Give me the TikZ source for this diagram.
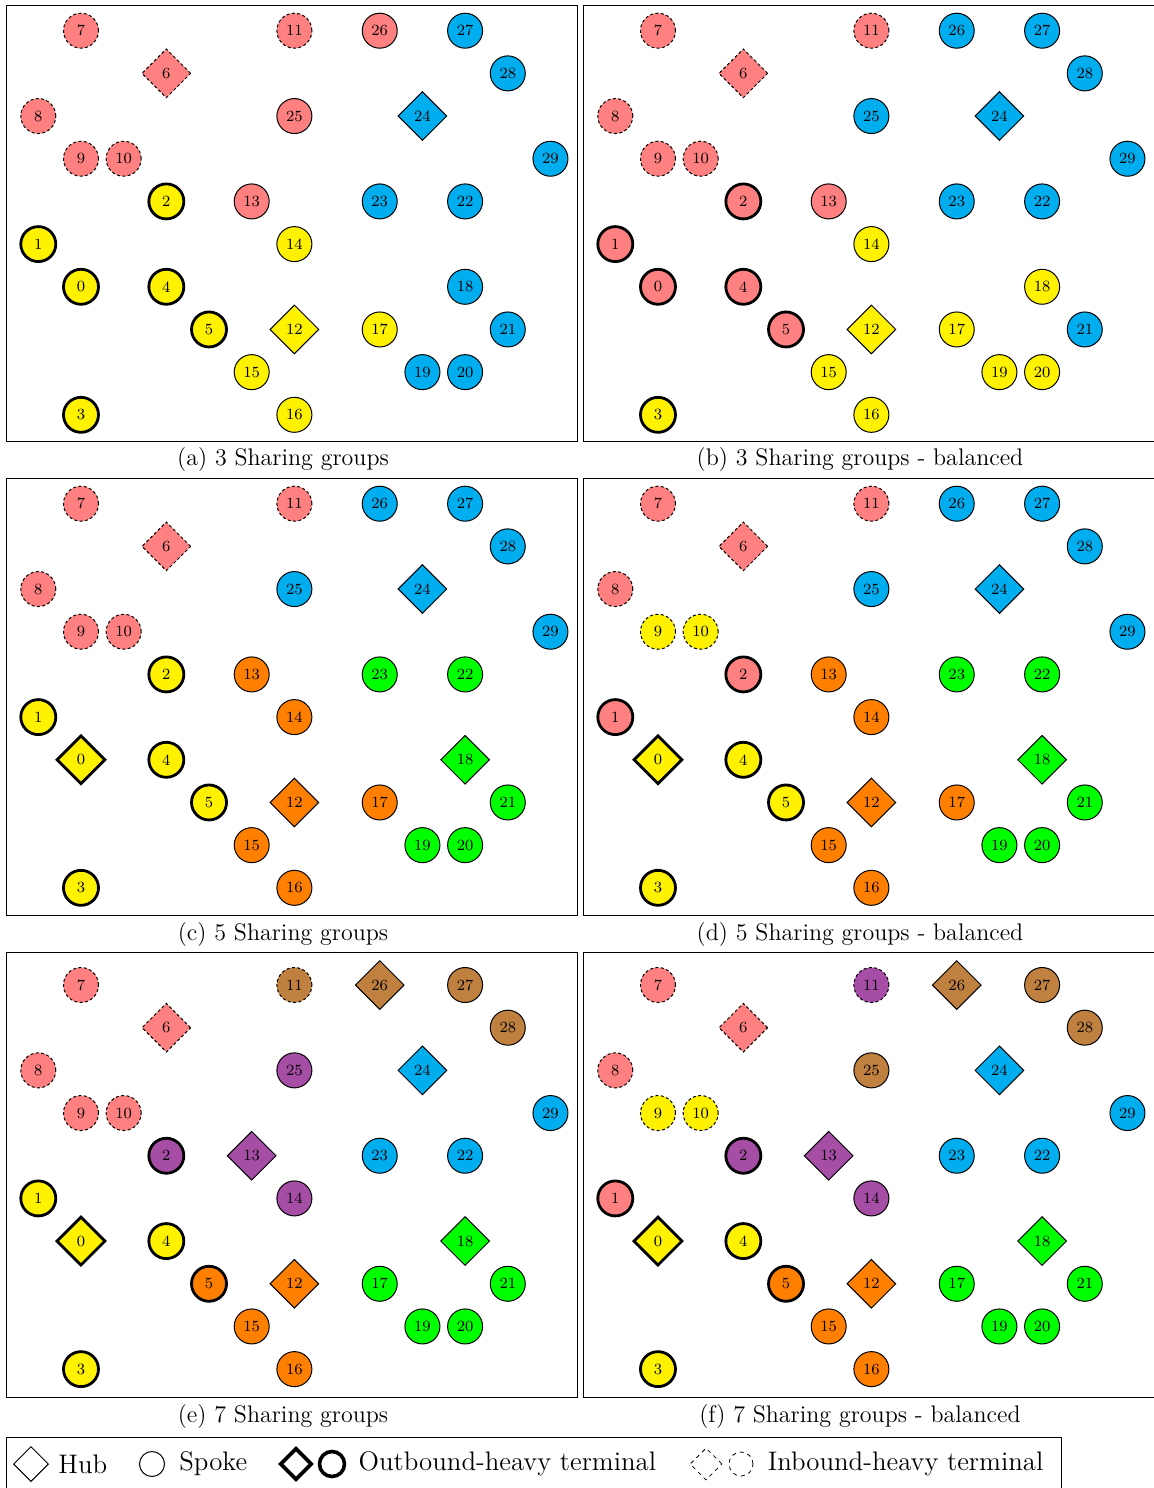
\documentclass[tikz,border=0pt]{standalone}
\usepackage{xcolor}
\usepackage{tikz}
\usetikzlibrary{shapes.geometric, positioning, calc}
\definecolor{pk}{RGB}{255, 128, 128}
\definecolor{yl}{RGB}{255, 242, 0}
\definecolor{cy}{RGB}{0, 174, 239}
\definecolor{gn}{RGB}{0, 255, 0}
\definecolor{og}{RGB}{255, 128, 0}
\definecolor{pu}{RGB}{166, 77, 166}
\definecolor{br}{RGB}{191, 128, 64}

\tikzset{
    terminal/.style={draw=black, line width=0.5pt, inner sep=0pt, font=\fontsize{7.8}{9}\selectfont},
    spoke/.style={terminal, circle, minimum size=17.5pt},
    hub/.style={terminal, diamond, aspect=1, minimum size=24.5pt},
    outbound/.style={line width=1.4pt},
    inbound/.style={dash pattern=on 1.5pt off 1.2pt},
    regular/.style={},
    panelframe/.style={draw=black, line width=0.5pt},
    caption/.style={font=\fontsize{12}{14}\selectfont},
    legendtext/.style={font=\fontsize{13.4}{15}\selectfont, inner sep=0pt},
    keydash/.style={line width=0.4pt, dash pattern=on 2pt off 2pt}
}

% id/column/row of every terminal on the grid
\newcommand{\sgpos}{0/1/6, 1/0/5, 2/3/4, 3/1/9, 4/3/6, 5/4/7, 6/3/1, 7/1/0, 8/0/2, 9/1/3,
    10/2/3, 11/6/0, 12/6/7, 13/5/4, 14/6/5, 15/5/8, 16/6/9, 17/8/7, 18/10/6, 19/9/8,
    20/10/8, 21/11/7, 22/10/4, 23/8/4, 24/9/2, 25/6/2, 26/8/0, 27/10/0, 28/11/1, 29/12/3}

% shapes, indexed by terminal id
\newcommand{\shapesab}{{"spoke","spoke","spoke","spoke","spoke","spoke","hub","spoke","spoke","spoke",
    "spoke","spoke","hub","spoke","spoke","spoke","spoke","spoke","spoke","spoke",
    "spoke","spoke","spoke","spoke","hub","spoke","spoke","spoke","spoke","spoke"}}
\newcommand{\shapescd}{{"hub","spoke","spoke","spoke","spoke","spoke","hub","spoke","spoke","spoke",
    "spoke","spoke","hub","spoke","spoke","spoke","spoke","spoke","hub","spoke",
    "spoke","spoke","spoke","spoke","hub","spoke","spoke","spoke","spoke","spoke"}}
\newcommand{\shapesef}{{"hub","spoke","spoke","spoke","spoke","spoke","hub","spoke","spoke","spoke",
    "spoke","spoke","hub","hub","spoke","spoke","spoke","spoke","hub","spoke",
    "spoke","spoke","spoke","spoke","hub","spoke","hub","spoke","spoke","spoke"}}

% sharing group colours, indexed by terminal id
\newcommand{\groupsa}{{"yl","yl","yl","yl","yl","yl","pk","pk","pk","pk",
    "pk","pk","yl","pk","yl","yl","yl","yl","cy","cy",
    "cy","cy","cy","cy","cy","pk","pk","cy","cy","cy"}}
\newcommand{\groupsb}{{"pk","pk","pk","yl","pk","pk","pk","pk","pk","pk",
    "pk","pk","yl","pk","yl","yl","yl","yl","yl","yl",
    "yl","cy","cy","cy","cy","cy","cy","cy","cy","cy"}}
\newcommand{\groupsc}{{"yl","yl","yl","yl","yl","yl","pk","pk","pk","pk",
    "pk","pk","og","og","og","og","og","og","gn","gn",
    "gn","gn","gn","gn","cy","cy","cy","cy","cy","cy"}}
\newcommand{\groupsd}{{"yl","pk","pk","yl","yl","yl","pk","pk","pk","yl",
    "yl","pk","og","og","og","og","og","og","gn","gn",
    "gn","gn","gn","gn","cy","cy","cy","cy","cy","cy"}}
\newcommand{\groupse}{{"yl","yl","pu","yl","yl","og","pk","pk","pk","pk",
    "pk","br","og","pu","pu","og","og","gn","gn","gn",
    "gn","gn","cy","cy","cy","pu","br","br","br","cy"}}
\newcommand{\groupsf}{{"yl","pk","pu","yl","yl","og","pk","pk","pk","yl",
    "yl","pu","og","pu","pu","og","og","gn","gn","gn",
    "gn","gn","cy","cy","cy","br","br","br","br","cy"}}

% prefix, x offset, y offset, frame top, frame bottom, shapes, colours, caption
\newcommand{\sgpanel}[8]{%
    \draw[panelframe] (#2+6,#4) rectangle (#2+577,#5);
    \foreach \id/\gx/\gy in \sgpos {
        \pgfmathsetmacro\shp{#6[\id]}
        \pgfmathsetmacro\fillc{#7[\id]}
        \ifnum\id<6 \def\term{outbound}\else\ifnum\id<12 \def\term{inbound}\else\def\term{regular}\fi\fi
        \edef\sgnode{\noexpand\node[\shp, \term, fill=\fillc]}
        \sgnode (#1\id) at (#2+38.3+\gx*42.68, #3+30.7+\gy*42.68) {\id};
    }
    \node[caption] (#1cap) at (#2+283,#5+19) {#8};
}

\begin{document}
\begin{tikzpicture}[x=0.5pt, y=-0.5pt]
    \useasboundingbox (0,0) rectangle (1153,1488);

    \sgpanel{a}{0}{0}{5}{441}{\shapesab}{\groupsa}{(a) 3 Sharing groups}
    \sgpanel{b}{577}{0}{5}{441}{\shapesab}{\groupsb}{(b) 3 Sharing groups - balanced}
    \sgpanel{c}{0}{473}{478}{915}{\shapescd}{\groupsc}{(c) 5 Sharing groups}
    \sgpanel{d}{577}{473}{478}{915}{\shapescd}{\groupsd}{(d) 5 Sharing groups - balanced}
    \sgpanel{e}{0}{954.3}{952}{1397}{\shapesef}{\groupse}{(e) 7 Sharing groups}
    \sgpanel{f}{577}{954.3}{952}{1397}{\shapesef}{\groupsf}{(f) 7 Sharing groups - balanced}

    % legend
    \draw[panelframe] (6,1437) rectangle (1061,1495);
    \node[hub, minimum size=17.5pt] (keyhub) at (31,1464) {};
    \node[legendtext, right=4.5pt of keyhub] (keyhubtext) {Hub};
    \node[spoke, minimum size=12.5pt] (keyspoke) at (152,1464) {};
    \node[legendtext, right=7pt of keyspoke] (keyspoketext) {Spoke};
    \node[hub, minimum size=16pt, line width=1.8pt] (keyouthub) at (296,1464) {};
    \node[spoke, minimum size=12.5pt, line width=1.8pt] (keyoutspoke) at (332,1464) {};
    \node[legendtext, right=6pt of keyoutspoke] (keyouttext) {Outbound-heavy terminal};
    \node[hub, minimum size=16pt, keydash] (keyinhub) at (706,1464) {};
    \node[spoke, minimum size=12pt, keydash] (keyinspoke) at (741,1464) {};
    \node[legendtext, right=7pt of keyinspoke] (keyintext) {Inbound-heavy terminal};
\end{tikzpicture}
\end{document}
